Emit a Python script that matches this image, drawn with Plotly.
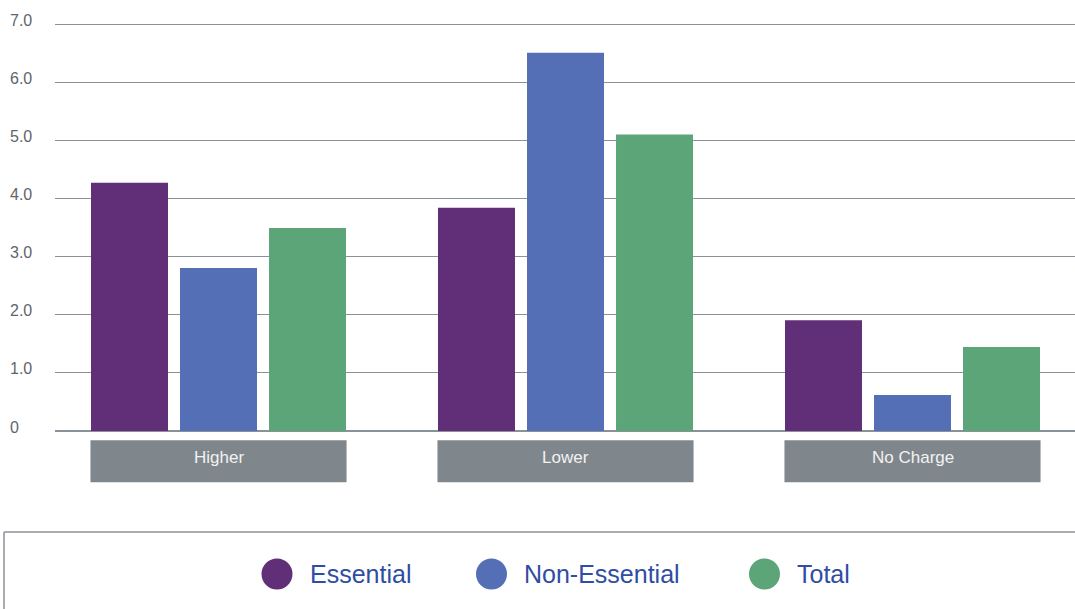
import plotly.graph_objects as go

# ---- data ----
categories = ["Higher", "Lower", "No Charge"]
essential = [4.28, 3.85, 1.91]
non_essential = [2.81, 6.52, 0.62]
total = [3.50, 5.11, 1.45]
tick_values = [0, 1, 2, 3, 4, 5, 6, 7]
tick_labels = ["0", "1.0", "2.0", "3.0", "4.0", "5.0", "6.0", "7.0"]
series_names = ["Essential", "Non-Essential", "Total"]

# ---- styling ----
colors = ["#612f77", "#556fb7", "#5ca579"]
grid_color = "#8a9299"
label_box_color = "#80878c"
tick_color = "#5e656c"
legend_text_color = "#2e4da3"
font_family = "Liberation Sans, Arial, Helvetica, sans-serif"

W, H = 1075, 609
Y_MAX = 7.05                      # a little headroom so the 7.0 gridline is drawn
PLOT_L, PLOT_R = 55, 1075
PLOT_B = 430.7
UNIT = (430.7 - 25) / 7.0         # pixels per unit on the value axis
PLOT_T = PLOT_B - Y_MAX * UNIT


def px_x(px):
    return (px - PLOT_L) / (PLOT_R - PLOT_L)


def px_y(py):
    return (PLOT_B - py) / (PLOT_B - PLOT_T)


fig = go.Figure()
for name, vals, col in zip(series_names, [essential, non_essential, total], colors):
    fig.add_trace(go.Bar(x=categories, y=vals, name=name, marker=dict(color=col, line=dict(width=0)),
                         showlegend=False, hoverinfo="x+y+name"))

shapes = []
annotations = []

# category label boxes under each group
for i, cat in enumerate(categories):
    shapes.append(dict(type="rect", xref="x", yref="paper", x0=i - 0.369, x1=i + 0.369,
                       y0=px_y(482), y1=px_y(440), fillcolor=label_box_color, line=dict(width=0), layer="above"))
    annotations.append(dict(x=i, y=px_y(457.5), xref="x", yref="paper", text=cat, showarrow=False,
                            xanchor="center", yanchor="middle",
                            font=dict(family=font_family, size=17, color="#f2f2f2")))

# y tick labels, left-aligned above each gridline
for v, lab in zip(tick_values, tick_labels):
    annotations.append(dict(x=px_x(8), y=v, xref="paper", yref="y", text=lab, showarrow=False,
                            xanchor="left", yanchor="middle", yshift=4,
                            font=dict(family=font_family, size=16, color=tick_color)))

# legend frame (top and left edges)
shapes.append(dict(type="line", xref="paper", yref="paper", x0=px_x(4), x1=px_x(1080),
                   y0=px_y(531.5), y1=px_y(531.5), line=dict(color="#8c9196", width=1.5)))
shapes.append(dict(type="line", xref="paper", yref="paper", x0=px_x(4), x1=px_x(4),
                   y0=px_y(531.5), y1=px_y(615), line=dict(color="#8c9196", width=1.5)))

# legend entries: circle swatch + label
legend_circle_cx = [277, 491.5, 764.5]
legend_text_x = [308, 522, 795]
for name, col, cx, tx in zip(series_names, colors, legend_circle_cx, legend_text_x):
    shapes.append(dict(type="circle", xref="paper", yref="paper", x0=px_x(cx - 15.5), x1=px_x(cx + 15.5),
                       y0=px_y(589), y1=px_y(558), fillcolor=col, line=dict(width=0)))
    annotations.append(dict(x=px_x(tx), y=px_y(573.5), xref="paper", yref="paper", text=name,
                            showarrow=False, xanchor="left", yanchor="middle",
                            font=dict(family=font_family, size=25, color=legend_text_color)))

fig.update_layout(
    width=W, height=H,
    margin=dict(l=PLOT_L, r=W - PLOT_R, t=PLOT_T, b=H - PLOT_B),
    paper_bgcolor="white", plot_bgcolor="white",
    barmode="group", bargap=0.2305, bargroupgap=0.135,
    font=dict(family=font_family),
    xaxis=dict(range=[-0.4712, 2.4683], showticklabels=False, showgrid=False, zeroline=False,
               showline=False, ticks="", fixedrange=True),
    yaxis=dict(range=[0, Y_MAX], tickvals=tick_values, showticklabels=False, showgrid=True,
               gridcolor=grid_color, gridwidth=1, zeroline=True, zerolinecolor=grid_color,
               zerolinewidth=1.5, showline=False, ticks="", fixedrange=True),
    shapes=shapes,
    annotations=annotations,
)

fig.write_html("out.html")
